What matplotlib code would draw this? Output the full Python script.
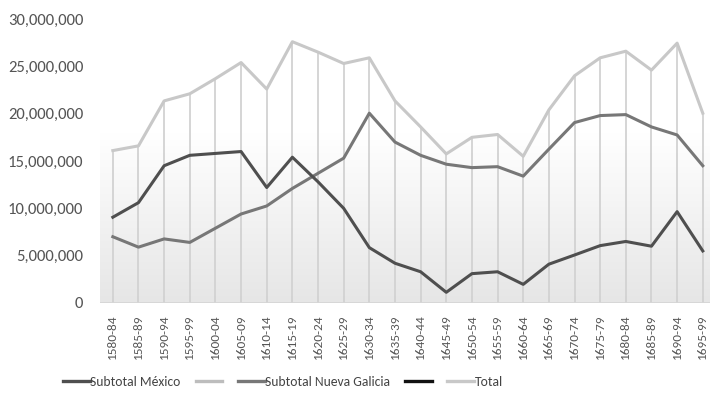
import matplotlib
matplotlib.use("Agg")
import matplotlib.pyplot as plt
import numpy as np
from matplotlib.ticker import FuncFormatter
from matplotlib.colors import LinearSegmentedColormap
from matplotlib.lines import Line2D
from matplotlib import font_manager

categories = ["1580-84", "1585-89", "1590-94", "1595-99", "1600-04", "1605-09",
              "1610-14", "1615-19", "1620-24", "1625-29", "1630-34", "1635-39",
              "1640-44", "1645-49", "1650-54", "1655-59", "1660-64", "1665-69",
              "1670-74", "1675-79", "1680-84", "1685-89", "1690-94", "1695-99"]

mexico = [9.06, 10.6, 14.5, 15.6, 15.8, 16.0, 12.2, 15.4, 12.8, 10.0, 5.85, 4.2,
          3.3, 1.13, 3.1, 3.3, 1.97, 4.1, 5.07, 6.06, 6.5, 6.0, 9.65, 5.5]
nueva_galicia = [7.0, 5.9, 6.77, 6.4, 7.9, 9.4, 10.25, 12.1, 13.7, 15.3, 20.05, 17.0,
                 15.6, 14.66, 14.3, 14.4, 13.4, 16.25, 19.06, 19.8, 19.9, 18.6, 17.75, 14.5]
total = [16.1, 16.6, 21.35, 22.1, 23.7, 25.4, 22.6, 27.6, 26.5, 25.3, 25.9, 21.35,
         18.6, 15.75, 17.5, 17.8, 15.5, 20.4, 24.0, 25.9, 26.6, 24.6, 27.45, 20.05]

mexico = [v * 1e6 for v in mexico]
nueva_galicia = [v * 1e6 for v in nueva_galicia]
total = [v * 1e6 for v in total]

installed = {f.name for f in font_manager.fontManager.ttflist}
main = 'Carlito' if 'Carlito' in installed else 'Lato'
plt.rcParams['font.family'] = [main, 'DejaVu Sans']

fig = plt.figure(figsize=(7.1, 4.03), dpi=100)
ax = fig.add_axes([100 / 710, 100 / 403, 610 / 710, 284 / 403])

x = np.arange(len(categories))

cmap = LinearSegmentedColormap.from_list("g", [(0, "#e6e6e6"), (0.6, "#ffffff"), (1, "#ffffff")])
grad = np.linspace(0, 1, 256).reshape(-1, 1)
ax.imshow(grad, extent=[0, 1, 0, 1], transform=ax.transAxes, cmap=cmap,
          aspect="auto", origin="lower", zorder=0)
ax.set_xlim(-0.5, -0.5 + 610 / 25.65)
ax.set_ylim(0, 30e6)

ax.vlines(x, 0, total, color="#d2d2d2", lw=1.3, zorder=1)
ax.axhline(0, color="#d6d6d6", lw=1.3, zorder=1)

ax.plot(x, total, color="#c8c8c8", lw=2.2, zorder=2)
ax.plot(x, nueva_galicia, color="#777777", lw=2.2, zorder=3)
ax.plot(x, mexico, color="#4f4f4f", lw=2.2, zorder=4)

for s in ax.spines.values():
    s.set_visible(False)

ax.set_xticks(x)
ax.set_xticklabels(categories, rotation=90, fontsize=9.5, color="#555555")
ax.tick_params(axis="x", length=0, pad=8)
ax.set_yticks(np.arange(0, 30e6 + 1, 5e6))
ax.yaxis.set_major_formatter(FuncFormatter(lambda v, p: f"{int(v):,}"))
ax.tick_params(axis="y", length=0, pad=12, labelsize=12, labelcolor="#555555")

handles = [
    Line2D([], [], color="#4f4f4f", lw=2.4),
    Line2D([], [], color="#bdbdbd", lw=2.4),
    Line2D([], [], color="#777777", lw=2.4),
    Line2D([], [], color="#111111", lw=2.4),
    Line2D([], [], color="#c8c8c8", lw=2.4),
]
labels = ["Subtotal México", "", "Subtotal Nueva Galicia", "", "Total"]
fig.legend(handles, labels, loc="center left", bbox_to_anchor=(51 / 710, 1 - 382 / 403),
           ncol=5, frameon=False, fontsize=9.8,
           handlelength=1.95, handletextpad=0.05, columnspacing=1.1, labelcolor="#444444")

fig.savefig("out.png", dpi=100)
